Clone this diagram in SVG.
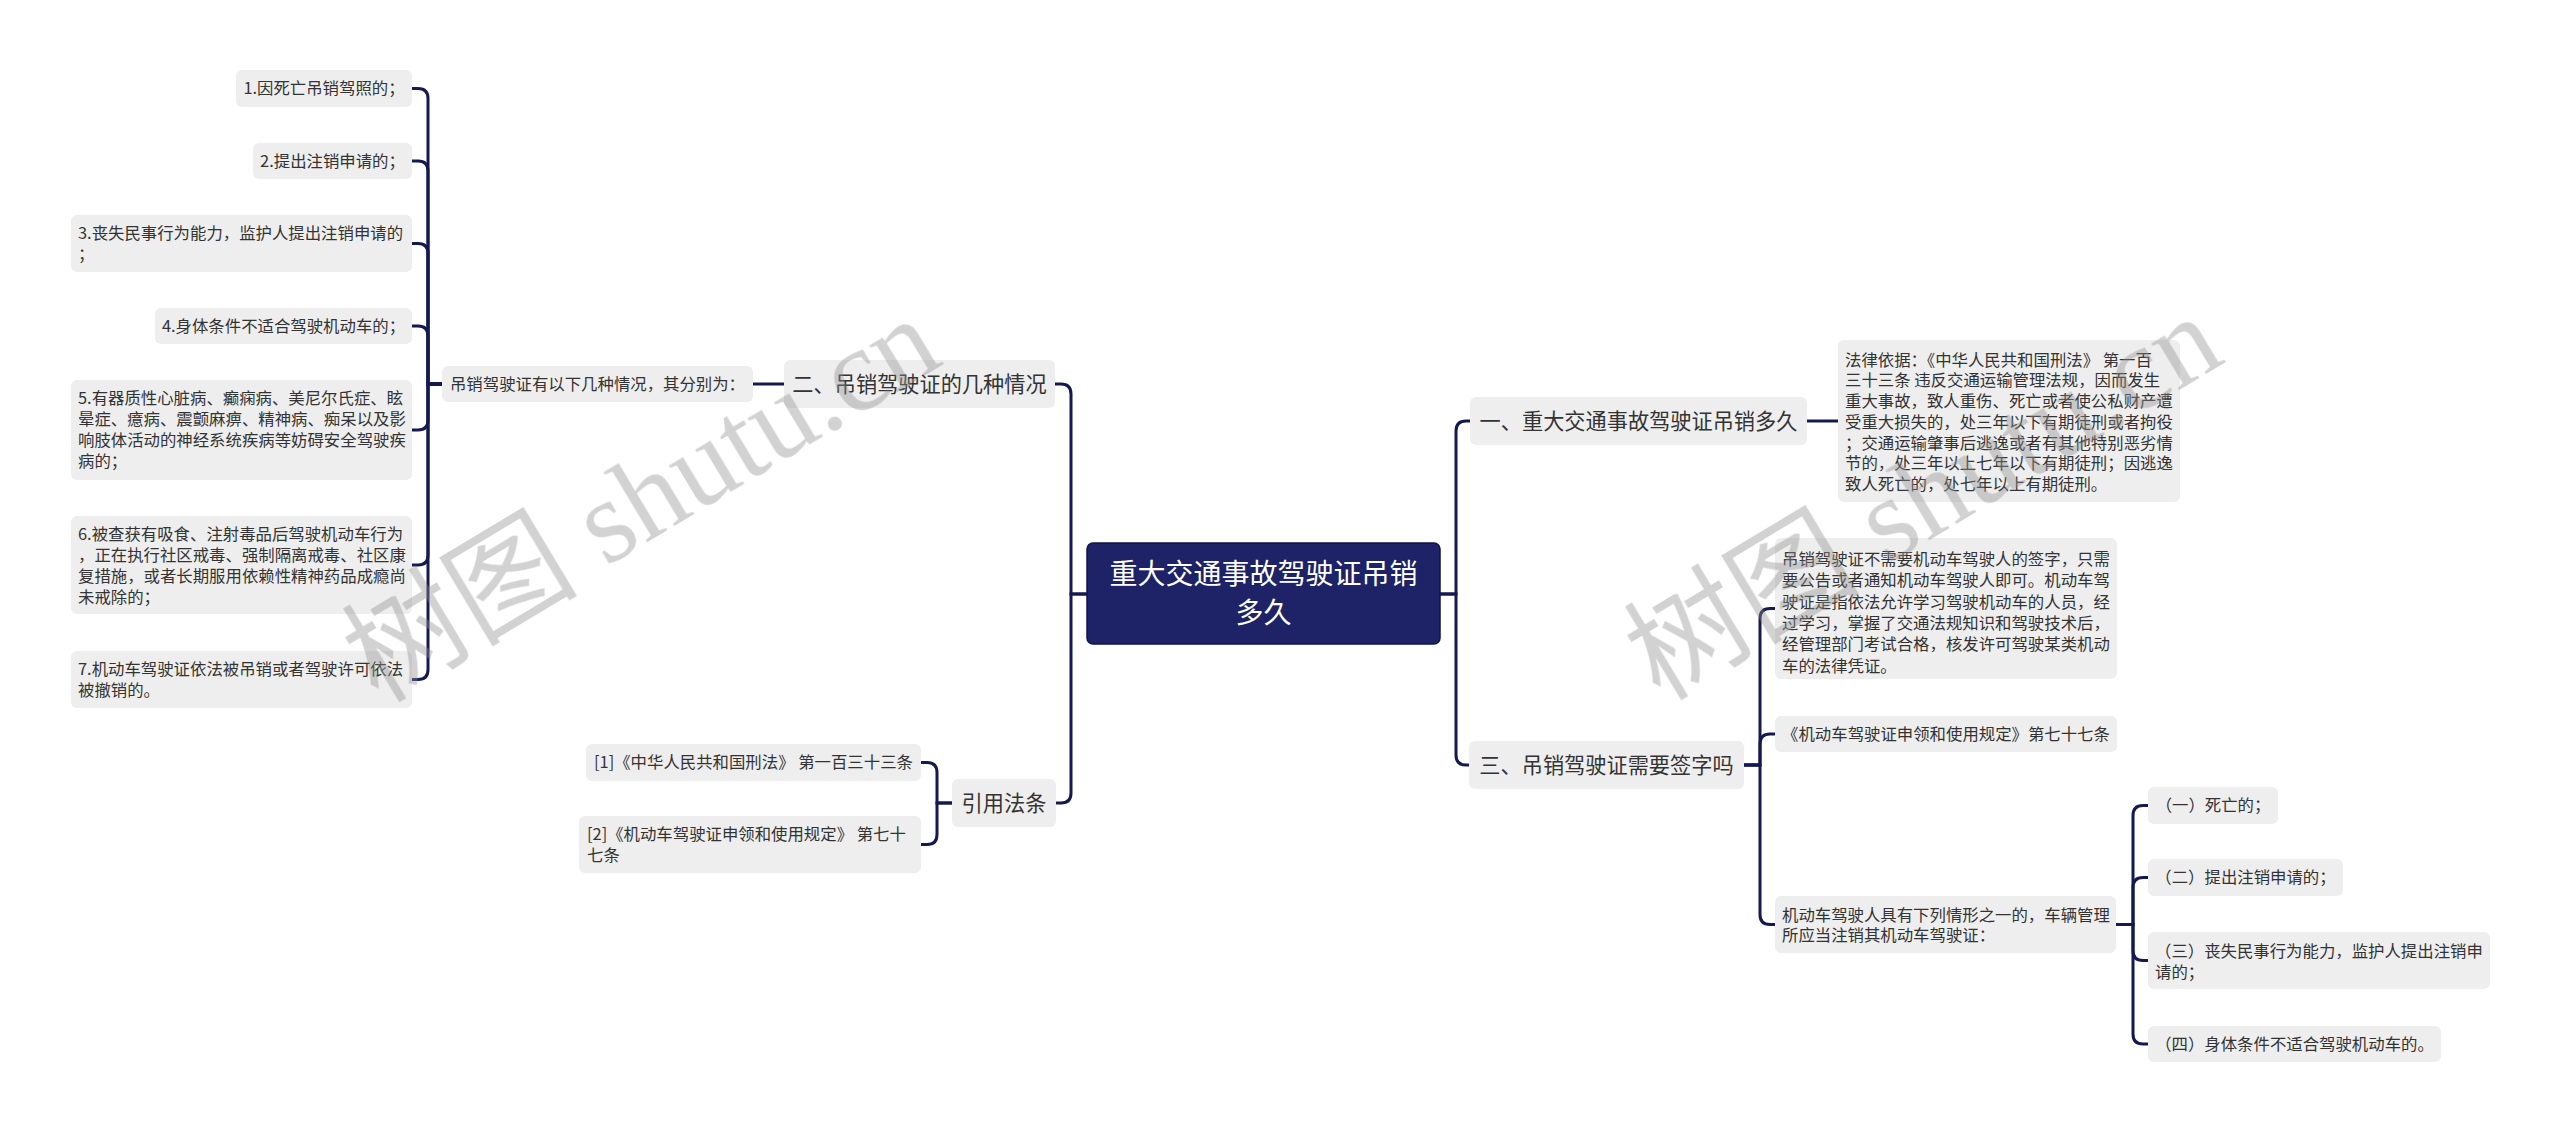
<svg xmlns="http://www.w3.org/2000/svg" width="2560" height="1132" viewBox="0 0 2560 1132">
<style>
.bg{fill:#ffffff}
.box{fill:#eeeeee}
.root{fill:#1d2366;stroke:#10154a;stroke-width:1.5}
.t{font-family:"Noto Sans CJK SC","Noto Sans",sans-serif;fill:#333333}
.s16{font-size:16.4px}
.s21{font-size:21.2px}
.s28{font-size:28px;fill:#ffffff}
.m{text-anchor:middle}
.conn path{fill:none;stroke:#141a4f;stroke-width:3}
.wm{opacity:0.4;fill:#8f8f8f}
</style>
<rect class="bg" x="0" y="0" width="2560" height="1132"/>

<g id="connectors" class="conn">
  <path d="M1087 594 H1071 V394 Q1071 384 1061 384 H1055"/>
  <path d="M1087 594 H1071 V793 Q1071 803 1061 803 H1056"/>
  <path d="M1440 594 H1456 V431 Q1456 421 1466 421 H1470"/>
  <path d="M1440 594 H1456 V755 Q1456 765 1466 765 H1469"/>
  <path d="M784 384 H753"/>
  <path d="M442 384 H428 V98.5 Q428 88.5 418 88.5 H412"/>
  <path d="M442 384 H428 V171 Q428 161 418 161 H412"/>
  <path d="M442 384 H428 V253.5 Q428 243.5 418 243.5 H412"/>
  <path d="M442 384 H428 V336 Q428 326 418 326 H412"/>
  <path d="M442 384 H428 V420 Q428 430 418 430 H412"/>
  <path d="M442 384 H428 V555 Q428 565 418 565 H412"/>
  <path d="M442 384 H428 V669.5 Q428 679.5 418 679.5 H412"/>
  <path d="M952 803 H937 V772.5 Q937 762.5 927 762.5 H921"/>
  <path d="M952 803 H937 V834.5 Q937 844.5 927 844.5 H921"/>
  <path d="M1807 421 H1838"/>
  <path d="M1744 765 H1760 V618.5 Q1760 608.5 1770 608.5 H1775"/>
  <path d="M1744 765 H1760 V744 Q1760 734 1770 734 H1775"/>
  <path d="M1744 765 H1760 V914.5 Q1760 924.5 1770 924.5 H1775"/>
  <path d="M2116 924.5 H2133 V815.5 Q2133 805.5 2143 805.5 H2148"/>
  <path d="M2116 924.5 H2133 V887.5 Q2133 877.5 2143 877.5 H2148"/>
  <path d="M2116 924.5 H2133 V950.5 Q2133 960.5 2143 960.5 H2148"/>
  <path d="M2116 924.5 H2133 V1034 Q2133 1044 2143 1044 H2148"/>
</g>

<g id="root">
  <rect class="root" x="1087" y="543" width="353" height="101" rx="6"/>
  <text class="t s28 m" x="1263.5" y="584">重大交通事故驾驶证吊销</text>
  <text class="t s28 m" x="1263.5" y="623">多久</text>
</g>

<g id="n-er">
  <rect class="box" x="784" y="360" width="271" height="48" rx="6"/>
  <text class="t s21 m" x="919.5" y="391.5">二、吊销驾驶证的几种情况</text>
</g>
<g id="n-yinyong">
  <rect class="box" x="952" y="779" width="104" height="48" rx="6"/>
  <text class="t s21 m" x="1004" y="810.5">引用法条</text>
</g>
<g id="n-yi">
  <rect class="box" x="1470" y="397" width="337" height="48" rx="6"/>
  <text class="t s21 m" x="1638.5" y="428.5">一、重大交通事故驾驶证吊销多久</text>
</g>
<g id="n-san">
  <rect class="box" x="1469" y="741" width="275" height="48" rx="6"/>
  <text class="t s21 m" x="1606.5" y="772.5">三、吊销驾驶证需要签字吗</text>
</g>

<g id="n-qingkuang">
  <rect class="box" x="442" y="366" width="311" height="36" rx="6"/>
  <text class="t s16 m" x="597.5" y="389.5">吊销驾驶证有以下几种情况，其分别为：</text>
</g>
<g id="n-l1">
  <rect class="box" x="236" y="70" width="176" height="37" rx="6"/>
  <text class="t s16 m" x="324" y="94">1.因死亡吊销驾照的；</text>
</g>
<g id="n-l2">
  <rect class="box" x="253" y="143" width="159" height="36" rx="6"/>
  <text class="t s16 m" x="332.5" y="166.5">2.提出注销申请的；</text>
</g>
<g id="n-l3">
  <rect class="box" x="71" y="215" width="341" height="57" rx="6"/>
  <text class="t s16" x="78" y="238.5">3.丧失民事行为能力，监护人提出注销申请的</text>
  <text class="t s16" x="78" y="259.5">；</text>
</g>
<g id="n-l4">
  <rect class="box" x="155" y="308" width="257" height="36" rx="6"/>
  <text class="t s16 m" x="283.5" y="331.5">4.身体条件不适合驾驶机动车的；</text>
</g>
<g id="n-l5">
  <rect class="box" x="71" y="380" width="341" height="100" rx="6"/>
  <text class="t s16" x="78" y="404">5.有器质性心脏病、癫痫病、美尼尔氏症、眩</text>
  <text class="t s16" x="78" y="425">晕症、癔病、震颤麻痹、精神病、痴呆以及影</text>
  <text class="t s16" x="78" y="446">响肢体活动的神经系统疾病等妨碍安全驾驶疾</text>
  <text class="t s16" x="78" y="467">病的；</text>
</g>
<g id="n-l6">
  <rect class="box" x="71" y="516" width="341" height="98" rx="6"/>
  <text class="t s16" x="78" y="539.5">6.被查获有吸食、注射毒品后驾驶机动车行为</text>
  <text class="t s16" x="78" y="560.5">，正在执行社区戒毒、强制隔离戒毒、社区康</text>
  <text class="t s16" x="78" y="581.5">复措施，或者长期服用依赖性精神药品成瘾尚</text>
  <text class="t s16" x="78" y="602.5">未戒除的；</text>
</g>
<g id="n-l7">
  <rect class="box" x="71" y="651" width="341" height="57" rx="6"/>
  <text class="t s16" x="78" y="674.5">7.机动车驾驶证依法被吊销或者驾驶许可依法</text>
  <text class="t s16" x="78" y="695.5">被撤销的。</text>
</g>

<g id="n-ref1">
  <rect class="box" x="586" y="744" width="335" height="37" rx="6"/>
  <text class="t s16 m" x="753.5" y="768">[1]《中华人民共和国刑法》 第一百三十三条</text>
</g>
<g id="n-ref2">
  <rect class="box" x="579" y="816" width="342" height="57" rx="6"/>
  <text class="t s16" x="587" y="839.5">[2]《机动车驾驶证申领和使用规定》 第七十</text>
  <text class="t s16" x="587" y="860.5">七条</text>
</g>

<g id="n-legal">
  <rect class="box" x="1838" y="340" width="342" height="162" rx="6"/>
  <text class="t s16" x="1845" y="365.5">法律依据：《中华人民共和国刑法》 第一百</text>
  <text class="t s16" x="1845" y="386.3">三十三条 违反交通运输管理法规，因而发生</text>
  <text class="t s16" x="1845" y="407">重大事故，致人重伤、死亡或者使公私财产遭</text>
  <text class="t s16" x="1845" y="427.8">受重大损失的，处三年以下有期徒刑或者拘役</text>
  <text class="t s16" x="1845" y="448.5">；交通运输肇事后逃逸或者有其他特别恶劣情</text>
  <text class="t s16" x="1845" y="469.3">节的，处三年以上七年以下有期徒刑；因逃逸</text>
  <text class="t s16" x="1845" y="490">致人死亡的，处七年以上有期徒刑。</text>
</g>

<g id="n-qianzi">
  <rect class="box" x="1775" y="538" width="342" height="141" rx="6"/>
  <text class="t s16" x="1782" y="565">吊销驾驶证不需要机动车驾驶人的签字，只需</text>
  <text class="t s16" x="1782" y="586.3">要公告或者通知机动车驾驶人即可。机动车驾</text>
  <text class="t s16" x="1782" y="607.6">驶证是指依法允许学习驾驶机动车的人员，经</text>
  <text class="t s16" x="1782" y="628.9">过学习，掌握了交通法规知识和驾驶技术后，</text>
  <text class="t s16" x="1782" y="650.2">经管理部门考试合格，核发许可驾驶某类机动</text>
  <text class="t s16" x="1782" y="671.5">车的法律凭证。</text>
</g>
<g id="n-guiding">
  <rect class="box" x="1775" y="716" width="342" height="36" rx="6"/>
  <text class="t s16 m" x="1946" y="739.5">《机动车驾驶证申领和使用规定》第七十七条</text>
</g>
<g id="n-zhuxiao">
  <rect class="box" x="1775" y="896" width="341" height="57" rx="6"/>
  <text class="t s16" x="1782" y="920.5">机动车驾驶人具有下列情形之一的，车辆管理</text>
  <text class="t s16" x="1782" y="941">所应当注销其机动车驾驶证：</text>
</g>
<g id="n-r1">
  <rect class="box" x="2148" y="787" width="130" height="37" rx="6"/>
  <text class="t s16 m" x="2213" y="811">（一）死亡的；</text>
</g>
<g id="n-r2">
  <rect class="box" x="2148" y="859" width="195" height="37" rx="6"/>
  <text class="t s16 m" x="2245.5" y="883">（二）提出注销申请的；</text>
</g>
<g id="n-r3">
  <rect class="box" x="2148" y="932" width="342" height="57" rx="6"/>
  <text class="t s16" x="2155" y="957">（三）丧失民事行为能力，监护人提出注销申</text>
  <text class="t s16" x="2155" y="977.5">请的；</text>
</g>
<g id="n-r4">
  <rect class="box" x="2148" y="1026" width="293" height="36" rx="6"/>
  <text class="t s16 m" x="2294.5" y="1049.5">（四）身体条件不适合驾驶机动车的。</text>
</g>

<g id="watermarks" class="wm">
  <text x="378" y="704" font-size="118" transform="rotate(-31 378 704)"><tspan font-family="Noto Sans CJK SC, sans-serif">树图</tspan><tspan font-family="Liberation Serif, serif"> shutu.cn</tspan></text>
  <text x="1660" y="702" font-size="118" transform="rotate(-31 1660 702)"><tspan font-family="Noto Sans CJK SC, sans-serif">树图</tspan><tspan font-family="Liberation Serif, serif"> shutu.cn</tspan></text>
</g>
</svg>
